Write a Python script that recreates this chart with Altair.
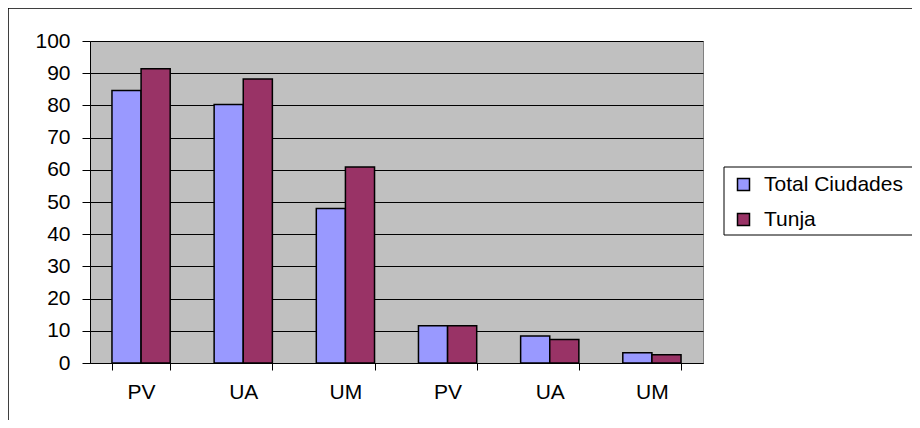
import altair as alt
import pandas as pd

categories = ["PV", "UA", "UM", "PV", "UA", "UM"]
total_ciudades = [84.6, 80.3, 48.0, 11.6, 8.4, 3.2]
tunja = [91.4, 88.2, 60.9, 11.6, 7.3, 2.6]
series_names = ["Total Ciudades", "Tunja"]
series_colors = ["#9999FF", "#993366"]
y_ticks = list(range(0, 101, 10))

keys = [f"{i}|{c}" for i, c in enumerate(categories)]
rows = []
for k, a, b in zip(keys, total_ciudades, tunja):
    rows.append({"cat": k, "serie": series_names[0], "valor": a})
    rows.append({"cat": k, "serie": series_names[1], "valor": b})
df = pd.DataFrame(rows)

W, H = 613, 322
FONT = "Liberation Sans"
FS = 21

bars = alt.Chart(df).mark_bar(stroke="black", strokeWidth=1.5).encode(
    x=alt.X("cat:N", sort=keys,
            scale=alt.Scale(paddingInner=0.43, paddingOuter=0.215),
            axis=alt.Axis(title=None, labelAngle=0, tickBand="extent", tickSize=7,
                          labelPadding=11, labelFontSize=FS, labelFont=FONT,
                          labelColor="black", domainColor="black", tickColor="black",
                          labelExpr="split(datum.label, '|')[1]", grid=False)),
    xOffset=alt.XOffset("serie:N", sort=series_names, scale=alt.Scale(paddingInner=0, paddingOuter=0)),
    y=alt.Y("valor:Q", scale=alt.Scale(domain=[0, 100], nice=False),
            axis=alt.Axis(title=None, values=y_ticks, tickSize=8, labelPadding=12,
                          labelFontSize=FS, labelFont=FONT, labelColor="black",
                          domainColor="black", tickColor="black", gridColor="black",
                          gridWidth=1)),
    color=alt.Color("serie:N", sort=series_names,
                    scale=alt.Scale(domain=series_names, range=series_colors),
                    legend=alt.Legend(title=None, orient="none", legendX=643, legendY=133,
                                      labelFontSize=FS, labelFont=FONT, labelColor="black",
                                      symbolType="square", symbolSize=144,
                                      symbolStrokeColor="black", symbolStrokeWidth=1.5,
                                      rowPadding=13, labelOffset=10, padding=0)),
)

one = pd.DataFrame({"a": [0]})
outer = alt.Chart(one).mark_rect(fill="white", fillOpacity=0, stroke="black", strokeWidth=1.5).encode(
    x=alt.value(-82), x2=alt.value(W + 300), y=alt.value(-33), y2=alt.value(H + 200))
legend_box = alt.Chart(one).mark_rect(fill="white", stroke="black", strokeWidth=1).encode(
    x=alt.value(634), x2=alt.value(W + 300), y=alt.value(126), y2=alt.value(194))

chart = alt.layer(outer, legend_box, bars).properties(
    width=W, height=H,
    autosize=alt.AutoSizeParams(type="none"),
    padding={"left": 82, "top": 33, "right": 904 - 82 - W, "bottom": 412 - 33 - H},
).configure(background="white").configure_view(
    fill="#C0C0C0", stroke="#808080", strokeWidth=1)

chart.save("out.html", embed_options={"renderer": "svg", "actions": False})
